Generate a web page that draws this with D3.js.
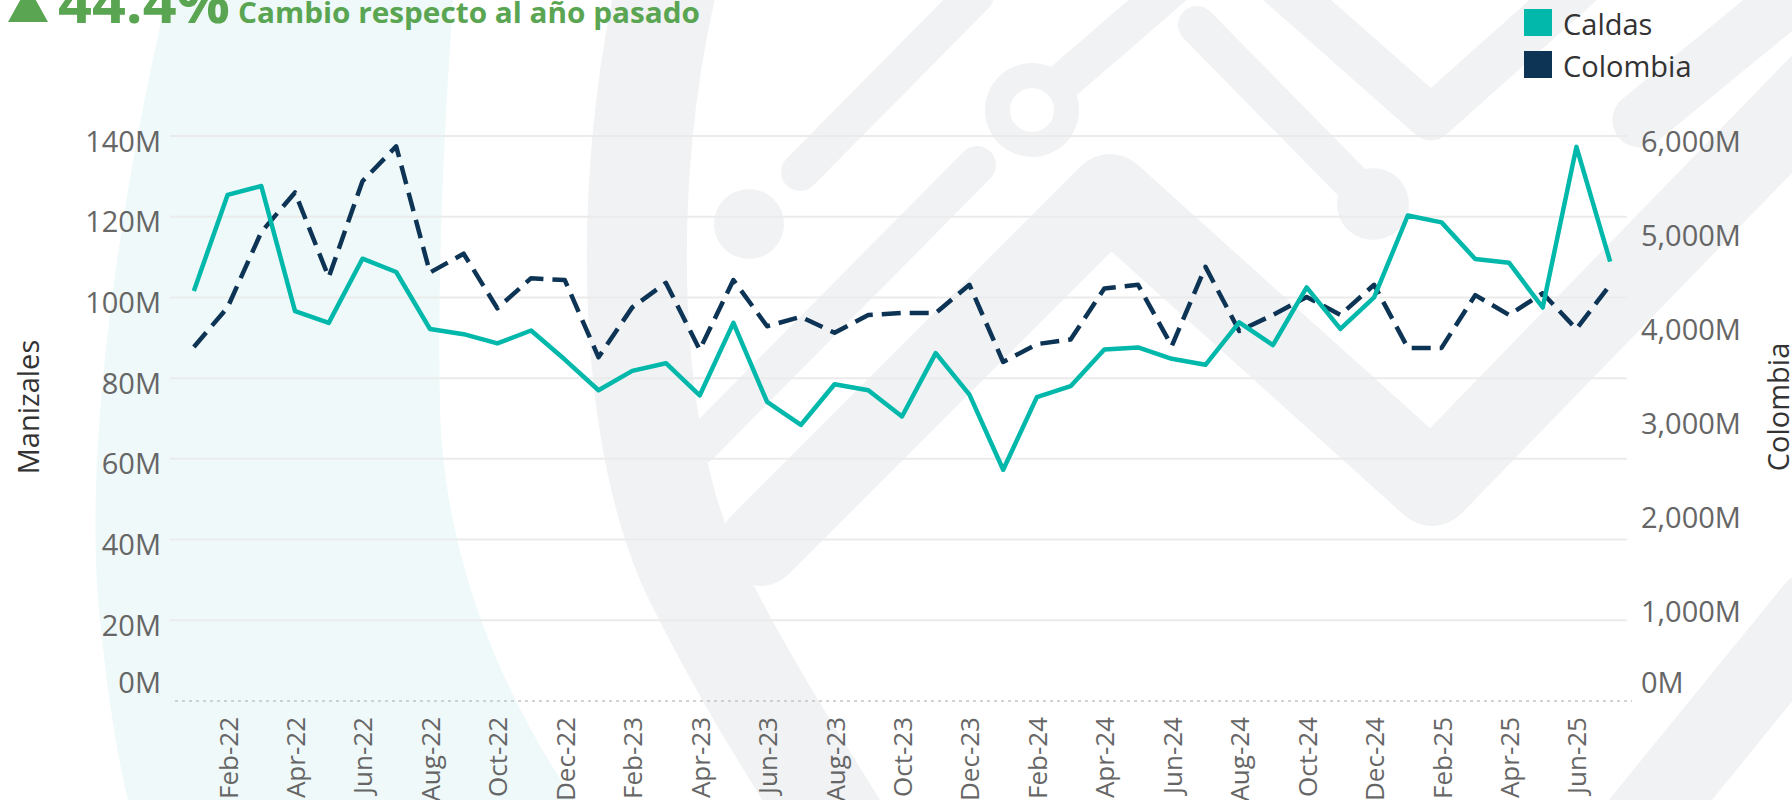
<!DOCTYPE html>
<html>
<head>
<meta charset="utf-8">
<script src="https://cdn.jsdelivr.net/npm/d3@7"></script>
<style>
    body { margin: 0; background: #fff; }
    svg { display: block; font-family: "Open Sans", sans-serif; }
</style>
</head>
<body>
<div class="container"></div>
<script>
var months = ["Jan-22", "Feb-22", "Mar-22", "Apr-22", "May-22", "Jun-22", "Jul-22", "Aug-22", "Sep-22", "Oct-22", "Nov-22", "Dec-22",
    "Jan-23", "Feb-23", "Mar-23", "Apr-23", "May-23", "Jun-23", "Jul-23", "Aug-23", "Sep-23", "Oct-23", "Nov-23", "Dec-23",
    "Jan-24", "Feb-24", "Mar-24", "Apr-24", "May-24", "Jun-24", "Jul-24", "Aug-24", "Sep-24", "Oct-24", "Nov-24", "Dec-24",
    "Jan-25", "Feb-25", "Mar-25", "Apr-25", "May-25", "Jun-25", "Jul-25"];

// Manizales / Caldas, millones
var caldas = [101.6, 125.4, 127.6, 96.6, 93.7, 109.6, 106.3, 92.2, 90.9, 88.6, 91.8, 84.6,
    77.0, 81.8, 83.7, 75.7, 93.7, 74.1, 68.4, 78.5, 77.0, 70.5, 86.2, 75.9,
    57.3, 75.3, 78.0, 87.1, 87.6, 84.8, 83.3, 93.8, 88.2, 102.5, 92.2, 100.0,
    120.3, 118.6, 109.5, 108.6, 97.5, 137.3, 108.9];

// Colombia, millones
var colombia = [3760, 4180, 4980, 5400, 4500, 5520, 5890, 4550, 4750, 4170, 4490, 4470,
    3650, 4180, 4440, 3730, 4470, 3980, 4080, 3910, 4100, 4120, 4120, 4420,
    3600, 3790, 3840, 4380, 4420, 3770, 4610, 3930, 4100, 4290, 4100, 4420,
    3750, 3750, 4310, 4100, 4330, 3950, 4420];

var leftTicks = [0, 20, 40, 60, 80, 100, 120, 140];
var rightTicks = [0, 1000, 2000, 3000, 4000, 5000, 6000];
var xTickLabels = months.filter(function (d, i) { return i % 2 === 1; });

var series = ["Caldas", "Colombia"];
var teal = "#01B8AA", navy = "#0D3455", green = "#5AA552", bgGray = "#F1F2F4";

!function () {
    var svg = d3.select('.container')
        .append('svg')
        .attr('width', 1792)
        .attr('height', 800);

    // fondo: marca de agua (decorativa)
    var bg = svg.append('g');
    bg.append('path')
        .attr('d', 'M166,0 C120,200 82,450 100,620 C108,700 118,760 128,800 L574,800 C500,690 445,560 440,410 C437,260 445,120 453,0 Z')
        .attr('fill', '#EFF9F9');

    var strokes = [
        {d: 'M668,-20 C620,180 625,450 700,590 C745,680 790,750 840,830', w: 100},
        {d: 'M1640,825 L1815,610', w: 80},
        {d: 'M1640,120 L1805,-15', w: 55},
        {d: 'M760,545 L1110,195 L1432,485 L1830,75', w: 82},
        {d: 'M1280,-15 L1431,118 L1580,-15', w: 45},
        {d: 'M800,172 L975,-5', w: 38},
        {d: 'M977,165 L700,445', w: 38},
        {d: 'M1065,80 L1175,-15', w: 38},
        {d: 'M1197,25 L1373,204', w: 38}
    ];
    bg.selectAll('path.s')
        .data(strokes)
        .enter()
        .append('path')
        .attr('class', 's')
        .attr('d', function (d) { return d.d; })
        .attr('fill', 'none')
        .attr('stroke', bgGray)
        .attr('stroke-width', function (d) { return d.w; })
        .attr('stroke-linejoin', 'round')
        .attr('stroke-linecap', 'round');
    bg.append('circle').attr('cx', 1373).attr('cy', 204).attr('r', 36).attr('fill', bgGray);
    bg.append('circle').attr('cx', 749).attr('cy', 224).attr('r', 35).attr('fill', bgGray);
    bg.append('circle').attr('cx', 1032).attr('cy', 110).attr('r', 47).attr('fill', bgGray);
    bg.append('circle').attr('cx', 1032).attr('cy', 110).attr('r', 22).attr('fill', '#fff');

    // escalas
    var x = d3.scaleBand()
        .domain(months)
        .range([177, 1627]);
    var cx = function (m) { return x(m) + x.bandwidth() / 2; };

    var yL = d3.scaleLinear().domain([0, 140]).range([701, 136]);
    var yR = d3.scaleLinear().domain([0, 6000]).range([701, 136]);

    // grilla
    svg.append('g').selectAll('line')
        .data(leftTicks.filter(function (d) { return d > 0; }))
        .enter()
        .append('line')
        .attr('x1', 170).attr('x2', 1627)
        .attr('y1', function (d) { return yL(d); })
        .attr('y2', function (d) { return yL(d); })
        .attr('stroke', '#EBEBEB')
        .attr('stroke-width', 2);

    svg.append('line')
        .attr('x1', 175).attr('x2', 1632)
        .attr('y1', yL(0)).attr('y2', yL(0))
        .attr('stroke', '#C4C4C4')
        .attr('stroke-width', 1.5)
        .attr('stroke-dasharray', '3,4');

    // eje izquierdo
    svg.append('g').selectAll('text')
        .data(leftTicks)
        .enter()
        .append('text')
        .attr('x', 161)
        .attr('y', function (d) { return d === 0 ? 681 : yL(d) + 4; })
        .attr('text-anchor', 'end')
        .attr('dominant-baseline', 'central')
        .attr('fill', '#666')
        .style('font-size', '29px')
        .text(function (d) { return d + 'M'; });

    // eje derecho
    svg.append('g').selectAll('text')
        .data(rightTicks)
        .enter()
        .append('text')
        .attr('x', 1641)
        .attr('y', function (d) { return d === 0 ? 681 : yR(d) + 4; })
        .attr('dominant-baseline', 'central')
        .attr('fill', '#666')
        .style('font-size', '29px')
        .text(function (d) { return d3.format(',')(d) + 'M'; });

    // eje x
    svg.append('g').selectAll('text')
        .data(xTickLabels)
        .enter()
        .append('text')
        .attr('transform', function (d) { return 'translate(' + cx(d) + ',717) rotate(-90)'; })
        .attr('text-anchor', 'end')
        .attr('dominant-baseline', 'central')
        .attr('fill', '#666')
        .style('font-size', '26px')
        .text(function (d) { return d; });

    // titulos de ejes
    svg.append('text')
        .attr('transform', 'translate(27,407) rotate(-90)')
        .attr('text-anchor', 'middle')
        .attr('dominant-baseline', 'central')
        .attr('fill', '#333')
        .style('font-size', '29px')
        .text('Manizales');
    svg.append('text')
        .attr('transform', 'translate(1777,407) rotate(-90)')
        .attr('text-anchor', 'middle')
        .attr('dominant-baseline', 'central')
        .attr('fill', '#333')
        .style('font-size', '29px')
        .text('Colombia');

    // lineas
    var lineL = d3.line()
        .x(function (d, i) { return cx(months[i]); })
        .y(function (d) { return yL(d); });
    var lineR = d3.line()
        .x(function (d, i) { return cx(months[i]); })
        .y(function (d) { return yR(d); });

    svg.append('path')
        .datum(colombia)
        .attr('d', lineR)
        .attr('fill', 'none')
        .attr('stroke', navy)
        .attr('stroke-width', 4.5)
        .attr('stroke-dasharray', '19,9')
        .attr('stroke-linejoin', 'round');

    svg.append('path')
        .datum(caldas)
        .attr('d', lineL)
        .attr('fill', 'none')
        .attr('stroke', teal)
        .attr('stroke-width', 4.5)
        .attr('stroke-linejoin', 'round');

    // leyenda
    var legend = svg.append('g').selectAll('g')
        .data(series)
        .enter()
        .append('g')
        .attr('transform', function (d, i) { return 'translate(1524,' + (9 + i * 42) + ')'; });
    legend.append('rect')
        .attr('width', 28).attr('height', 27)
        .attr('fill', function (d, i) { return i === 0 ? teal : navy; });
    legend.append('text')
        .attr('x', 39).attr('y', 14)
        .attr('dominant-baseline', 'central')
        .attr('fill', '#333')
        .style('font-size', '29px')
        .text(function (d) { return d; });

    // encabezado
    svg.append('polygon')
        .attr('points', '8,22 48,22 28,-14')
        .attr('fill', green);
    svg.append('text')
        .attr('x', 58).attr('y', 23)
        .attr('fill', green)
        .attr('textLength', 172)
        .attr('lengthAdjust', 'spacingAndGlyphs')
        .style('font-size', '58px')
        .style('font-weight', 'bold')
        .text('44.4%');
    svg.append('text')
        .attr('x', 238).attr('y', 23)
        .attr('fill', green)
        .attr('textLength', 462)
        .attr('lengthAdjust', 'spacingAndGlyphs')
        .style('font-size', '29px')
        .style('font-weight', 'bold')
        .text('Cambio respecto al año pasado');
}();
</script>
</body>
</html>
